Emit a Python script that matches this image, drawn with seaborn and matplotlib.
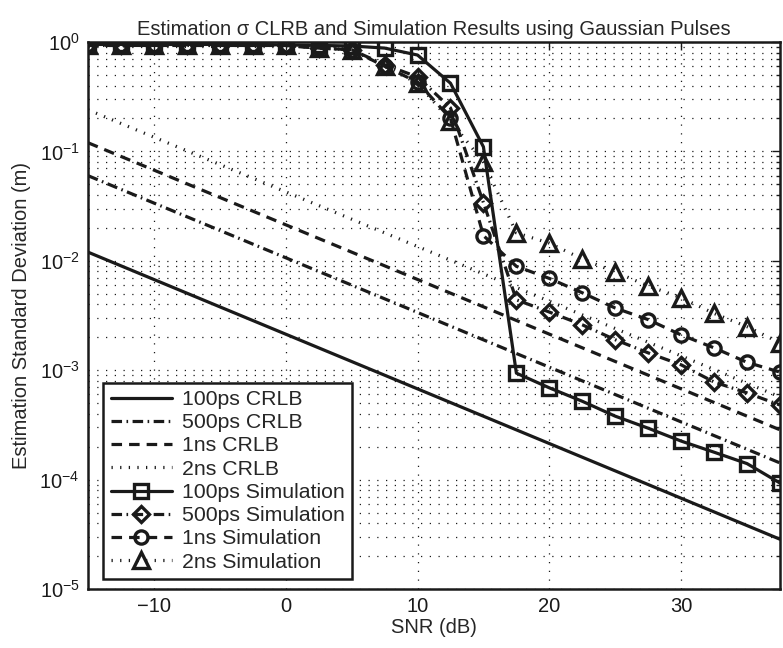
import numpy as np
import pandas as pd
import seaborn as sns
import matplotlib.pyplot as plt
from matplotlib.ticker import LogLocator, NullLocator, NullFormatter, FixedLocator

sns.set_theme(style="white")
plt.rcParams['font.family'] = ['Liberation Sans', 'DejaVu Sans']
plt.rcParams['mathtext.fontset'] = 'custom'
plt.rcParams['mathtext.rm'] = 'Liberation Sans'
plt.rcParams['mathtext.it'] = 'Liberation Sans:italic'

# data
snr = [-15, -12.5, -10, -7.5, -5, -2.5, 0, 2.5, 5, 7.5, 10, 12.5,
       15, 17.5, 20, 22.5, 25, 27.5, 30, 32.5, 35, 37.5]

# CRLB curves are straight on this scale: end points only
snr_crlb = [-15, 37.5]
crlb_100ps = [1.2e-2, 2.85e-5]
crlb_500ps = [6.0e-2, 1.42e-4]
crlb_1ns = [1.2e-1, 2.85e-4]
crlb_2ns = [2.4e-1, 5.7e-4]

sim_100ps = [0.95, 0.95, 0.95, 0.95, 0.95, 0.95, 0.94, 0.93, 0.92, 0.88, 0.76, 0.42,
             0.11, 9.4e-4, 6.9e-4, 5.2e-4, 3.8e-4, 2.95e-4, 2.25e-4, 1.78e-4, 1.40e-4, 9.3e-5]
sim_500ps = [0.93, 0.93, 0.93, 0.93, 0.93, 0.93, 0.93, 0.88, 0.85, 0.62, 0.48, 0.25,
             0.034, 4.4e-3, 3.4e-3, 2.6e-3, 1.9e-3, 1.44e-3, 1.12e-3, 7.8e-4, 6.2e-4, 4.8e-4]
sim_1ns = [0.93, 0.93, 0.93, 0.93, 0.93, 0.93, 0.93, 0.88, 0.85, 0.60, 0.43, 0.20,
           0.017, 8.9e-3, 6.9e-3, 5.1e-3, 3.7e-3, 2.9e-3, 2.1e-3, 1.6e-3, 1.18e-3, 9.6e-4]
sim_2ns = [0.93, 0.93, 0.93, 0.93, 0.93, 0.93, 0.93, 0.88, 0.85, 0.60, 0.42, 0.19,
           0.08, 1.8e-2, 1.45e-2, 1.04e-2, 7.9e-3, 5.9e-3, 4.6e-3, 3.3e-3, 2.5e-3, 1.78e-3]

fig = plt.figure(figsize=(7.83, 6.48), dpi=100)
ax = fig.add_axes([88 / 783, (648 - 589) / 648, 692 / 783, 547 / 648])

fs = 14.5
lw = 2.3
dashdot = (3.3, 1.4, 0.5, 1.4)
dashed = (3.3, 2.2)
dotted = (0.4, 2.3)

crlb = [("100ps CRLB", crlb_100ps, "-"),
        ("500ps CRLB", crlb_500ps, dashdot),
        ("1ns CRLB", crlb_1ns, dashed),
        ("2ns CRLB", crlb_2ns, dotted)]
sims = [("100ps Simulation", sim_100ps, "-", "s", 9.5),
        ("500ps Simulation", sim_500ps, dashdot, "D", 8.5),
        ("1ns Simulation", sim_1ns, dashed, "o", 9.5),
        ("2ns Simulation", sim_2ns, dotted, "^", 11)]

for name, vals, ls in crlb:
    df = pd.DataFrame({"snr": snr_crlb, "std": vals})
    kw = dict(linestyle="-") if ls == "-" else dict(dashes=ls)
    sns.lineplot(data=df, x="snr", y="std", ax=ax, color="k", lw=lw,
                 label=name, **kw)

for name, vals, ls, mk, ms in sims:
    df = pd.DataFrame({"snr": snr, "std": vals})
    kw = dict(linestyle="-") if ls == "-" else dict(dashes=ls)
    sns.lineplot(data=df, x="snr", y="std", ax=ax, color="k", lw=lw,
                 marker=mk, markersize=ms, mfc="none", mec="k", mew=2.4,
                 label=name, **kw)

ax.set_yscale("log")
ax.set_xlim(-15, 37.5)
ax.set_ylim(1e-5, 1e0)
ax.xaxis.set_major_locator(FixedLocator([-10, 0, 10, 20, 30]))
ax.xaxis.set_minor_locator(NullLocator())
ax.yaxis.set_major_locator(LogLocator(base=10, numticks=10))
ax.yaxis.set_minor_locator(LogLocator(base=10, subs=np.arange(2, 10), numticks=20))
ax.yaxis.set_minor_formatter(NullFormatter())
ax.set_xticklabels(["\u221210", "0", "10", "20", "30"])

grid_ls = (0, (1, 6))
ax.grid(True, which="major", axis="both", ls=grid_ls, color="k", lw=0.9)
ax.grid(True, which="minor", axis="y", ls=grid_ls, color="k", lw=0.9)
ax.tick_params(which="both", direction="in", top=True, right=True,
               labelsize=fs, colors="k")
ax.tick_params(which="major", length=6, width=1, pad=6)
ax.tick_params(which="minor", length=3, width=1)
for s in ax.spines.values():
    s.set_color("k")
    s.set_linewidth(1.8)

ax.set_title("Estimation \u03c3 CLRB and Simulation Results using Gaussian Pulses",
             fontsize=fs, pad=5)
ax.set_xlabel("SNR (dB)", fontsize=fs, labelpad=1)
ax.set_ylabel("Estimation Standard Deviation (m)", fontsize=fs, labelpad=6)

leg = ax.legend(loc="lower left", bbox_to_anchor=(0.022, 0.018), borderaxespad=0,
                fontsize=15.3, handlelength=2.9, handletextpad=0.45,
                labelspacing=0.2, frameon=True, fancybox=False,
                borderpad=0.35)
leg.get_frame().set_edgecolor("k")
leg.get_frame().set_linewidth(1.8)
leg.get_frame().set_alpha(1)

fig.savefig("out.png", dpi=100)
